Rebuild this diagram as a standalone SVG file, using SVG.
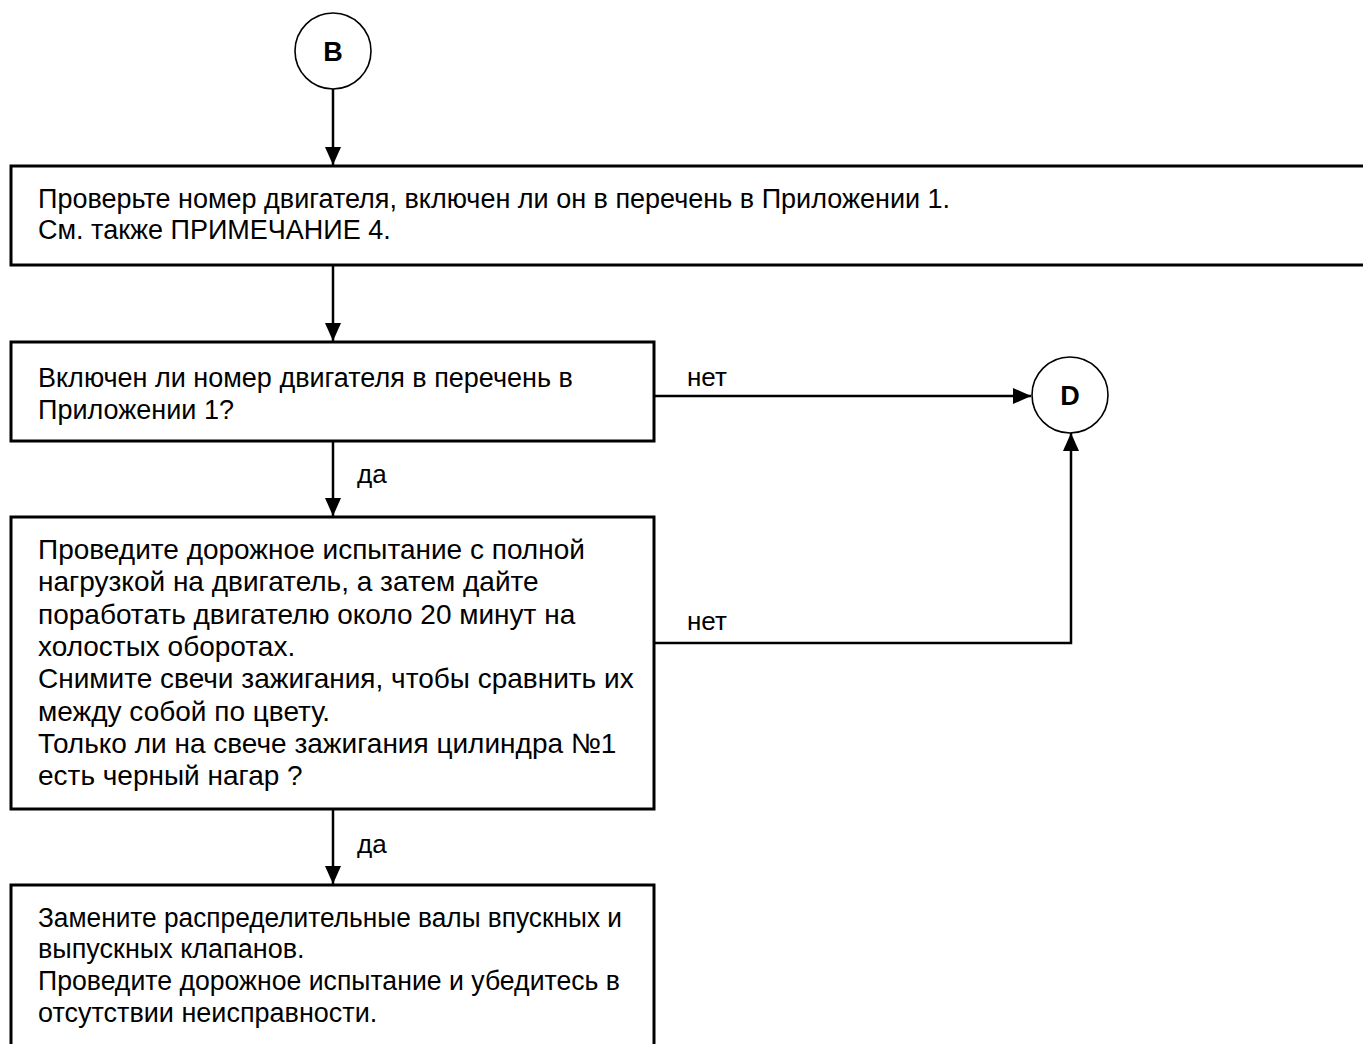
<svg xmlns="http://www.w3.org/2000/svg" width="1363" height="1044" viewBox="0 0 1363 1044">
<style>
.box{fill:#fff;stroke:#000;stroke-width:3}
.circ{fill:#fff;stroke:#000;stroke-width:1.6}
.t{font-family:"Liberation Sans",Arial,sans-serif;font-size:27px;fill:#000}
.n{font-family:"Liberation Sans",Arial,sans-serif;font-size:28px;fill:#000}
.lb{font-family:"Liberation Sans",Arial,sans-serif;font-size:26px;fill:#000}
.lbl{font-family:"Liberation Sans",Arial,sans-serif;font-size:27px;font-weight:bold;fill:#000;text-anchor:middle}
.c{fill:none;stroke:#000;stroke-width:2.5}
</style>
<defs>
<marker id="ah" markerWidth="16" markerHeight="18" refX="18" refY="8" orient="auto" markerUnits="userSpaceOnUse">
<path d="M0,0 L18,8 L0,16 Z" fill="#000"/>
</marker>
</defs>
<g id="connectors">
<line class="c" x1="333" y1="89" x2="333" y2="165" marker-end="url(#ah)"/>
<line class="c" x1="333" y1="265" x2="333" y2="341" marker-end="url(#ah)"/>
<line class="c" x1="655" y1="396" x2="1031" y2="396" marker-end="url(#ah)"/>
<line class="c" x1="333" y1="441" x2="333" y2="516" marker-end="url(#ah)"/>
<polyline class="c" points="655,643 1071,643 1071,433" marker-end="url(#ah)"/>
<line class="c" x1="333" y1="809" x2="333" y2="884" marker-end="url(#ah)"/>
<text class="lb" x="687" y="386">нет</text>
<text class="lb" x="357" y="483">да</text>
<text class="lb" x="687" y="630">нет</text>
<text class="lb" x="357" y="853">да</text>
</g>
<g id="nodeB">
<circle class="circ" cx="333" cy="51" r="38"/>
<text class="lbl" x="333" y="61">B</text>
</g>
<g id="node1">
<rect class="box" x="11" y="166" width="1370" height="99"/>
<text class="t" x="38" y="208">Проверьте номер двигателя, включен ли он в перечень в Приложении 1.</text>
<text class="t" x="38" y="239">См. также ПРИМЕЧАНИЕ 4.</text>
</g>
<g id="node2">
<rect class="box" x="11" y="342" width="643" height="99"/>
<text class="t" x="38" y="387">Включен ли номер двигателя в перечень в</text>
<text class="t" x="38" y="419">Приложении 1?</text>
</g>
<g id="nodeD">
<circle class="circ" cx="1070" cy="395" r="38"/>
<text class="lbl" x="1070" y="405">D</text>
</g>
<g id="node3">
<rect class="box" x="11" y="517" width="643" height="292"/>
<text class="n" x="38" y="559">Проведите дорожное испытание с полной</text>
<text class="n" x="38" y="591">нагрузкой на двигатель, а затем дайте</text>
<text class="n" x="38" y="624">поработать двигателю около 20 минут на</text>
<text class="n" x="38" y="656">холостых оборотах.</text>
<text class="n" x="38" y="688">Снимите свечи зажигания, чтобы сравнить их</text>
<text class="n" x="38" y="721">между собой по цвету.</text>
<text class="n" x="38" y="753">Только ли на свече зажигания цилиндра №1</text>
<text class="n" x="38" y="785">есть черный нагар ?</text>
</g>
<g id="node4">
<rect class="box" x="11" y="885" width="643" height="200"/>
<text class="t" x="38" y="927" textLength="584" lengthAdjust="spacingAndGlyphs">Замените распределительные валы впускных и</text>
<text class="t" x="38" y="958">выпускных клапанов.</text>
<text class="t" x="38" y="990" textLength="582" lengthAdjust="spacingAndGlyphs">Проведите дорожное испытание и убедитесь в</text>
<text class="t" x="38" y="1022">отсутствии неисправности.</text>
</g>
</svg>
